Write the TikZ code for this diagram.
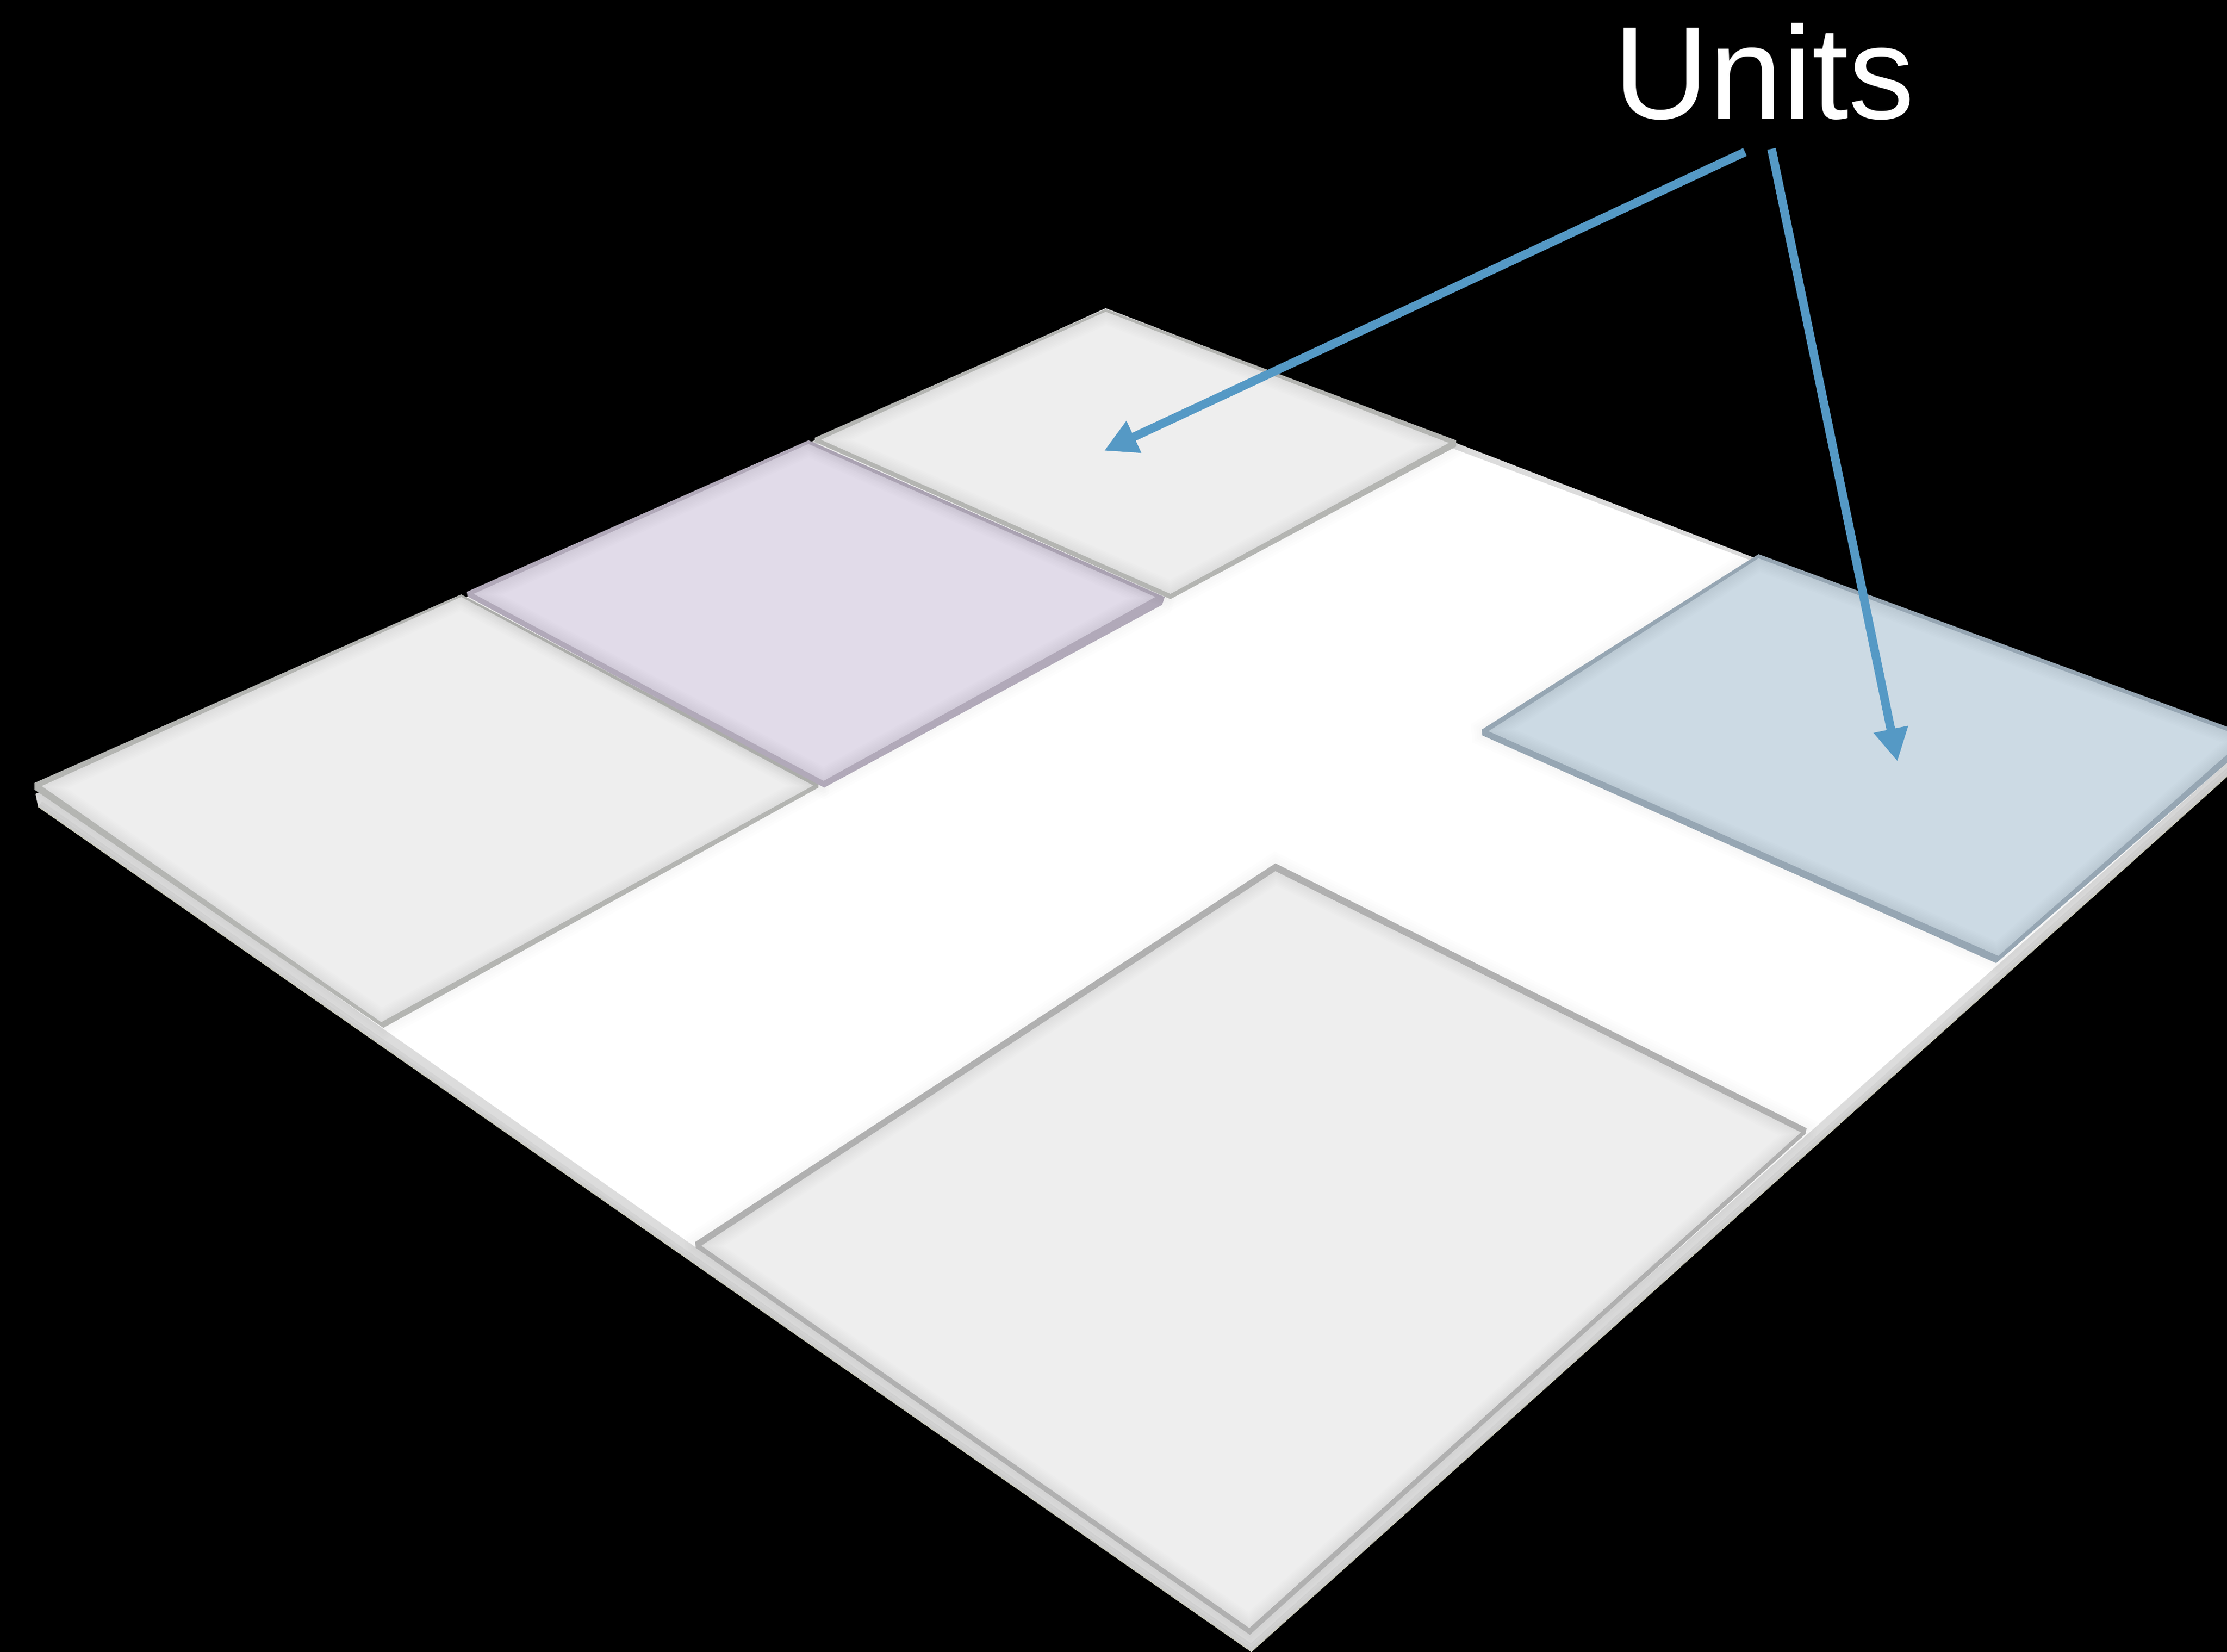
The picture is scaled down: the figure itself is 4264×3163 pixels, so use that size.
\documentclass[tikz,border=0pt]{standalone}
\usepackage{fontspec}
\setmainfont{Liberation Sans}
\usetikzlibrary{arrows.meta}
\definecolor{graytop}{HTML}{EEEEEE}
\definecolor{grayrim}{HTML}{B4B5B2}
\definecolor{bigrim}{HTML}{B0B0B0}
\definecolor{lilactop}{HTML}{E1DBE9}
\definecolor{lilacrim}{HTML}{B1A9B9}
\definecolor{bluetop}{HTML}{CCDAE4}
\definecolor{bluerim}{HTML}{96A6B3}
\definecolor{arrowblue}{HTML}{5599C5}
\definecolor{plateside}{HTML}{DCDCDC}
\definecolor{plateshade}{HTML}{CDCDCD}
\definecolor{plateedge}{HTML}{C9C9B6}
\tikzset{
  pointer/.style={draw=arrowblue,line width=16.5pt,-{Triangle[length=63pt,width=63pt,fill=arrowblue]}},
  softedge/.style={draw=black,opacity=.009,line join=miter},
  softshadow/.style={draw=black,opacity=.006,line join=miter},
}
% #1 outer outline, #2 top face, #3 face colour, #4 rim colour
\newcommand{\unittile}[4]{%
  \foreach \w in {10,20,30,40}{\draw[softshadow,line width=\w pt] #1 -- cycle;}
  \fill[#4] #1 -- cycle;
  \begin{scope}
    \clip #2 -- cycle;
    \fill[#3] #2 -- cycle;
    \foreach \w in {6,12,18,24,30,36,42,48}{\draw[softedge,line width=\w pt] #2 -- cycle;}
  \end{scope}
}
\begin{document}
\begin{tikzpicture}[x=1pt,y=-1pt]
\useasboundingbox (0,0) rectangle (4264,3163);
\clip (0,0) rectangle (4264,3163);
\fill[black] (0,0) rectangle (4264,3163);
% base plate: side band
\begin{scope}
  \clip (68,1520) -- (73,1545) -- (2396,3163) -- (4300,1455) -- (4300,1430) -- (2117,590) -- cycle;
  \fill[plateside] (68,1520) -- (73,1545) -- (2396,3163) -- (4300,1455) -- (4300,1430) -- (2117,590) -- cycle;
  \draw[plateshade,line width=26pt,opacity=.55] (73,1545) -- (2396,3163) -- (4300,1455);
  \draw[plateshade,line width=14pt] (73,1545) -- (2396,3163) -- (4300,1455);
  \draw[plateedge,line width=3pt] (73,1545) -- (2396,3163) -- (4300,1455);
\end{scope}
% base plate: top face
\fill[white] (66,1505) -- (2117,609) -- (4300,1429) -- (3822,1850) -- (2393,3122) -- (1332,2388) -- (740,1974) -- cycle;
% tiles
\unittile{(66,1499) -- (883,1138) -- (1567,1500) -- (1567,1508) -- (734,1968) -- (66,1512)}
         {(80,1505) -- (883,1143) -- (1557,1504) -- (730,1957)}{graytop}{grayrim}
\unittile{(894,1133) -- (1548,843) -- (2230,1143) -- (2225,1158) -- (1578,1508) -- (895,1142)}
         {(907,1137) -- (1548,850) -- (2212,1143) -- (1577,1495)}{lilactop}{lilacrim}
\unittile{(1560,838) -- (2117,592) -- (2788,843) -- (2788,855) -- (2241,1147) -- (1560,846)}
         {(1572,842) -- (2117,597) -- (2774,848) -- (2241,1137)}{graytop}{grayrim}
\unittile{(2837,1397) -- (3367,1061) -- (4320,1412) -- (3822,1844) -- (2838,1408)}
         {(2850,1400) -- (3367,1069) -- (4300,1413) -- (3826,1830)}{bluetop}{bluerim}
\unittile{(1331,2378) -- (2442,1653) -- (3459,2160) -- (3457,2171) -- (2393,3130) -- (1332,2389)}
         {(1343,2385) -- (2442,1668) -- (3448,2168) -- (2392,3117)}{graytop}{bigrim}
% label and arrows
\node[text=white,anchor=base,inner sep=0pt,font=\fontsize{253}{253}\selectfont] (units) at (3378,228) {Units};
\coordinate (tailA) at (3341,291);
\coordinate (tipA) at (2114,863);
\coordinate (tailB) at (3392,285);
\coordinate (tipB) at (3633,1458);
\draw[pointer] (tailA) -- (tipA);
\draw[pointer] (tailB) -- (tipB);
\end{tikzpicture}
\end{document}
